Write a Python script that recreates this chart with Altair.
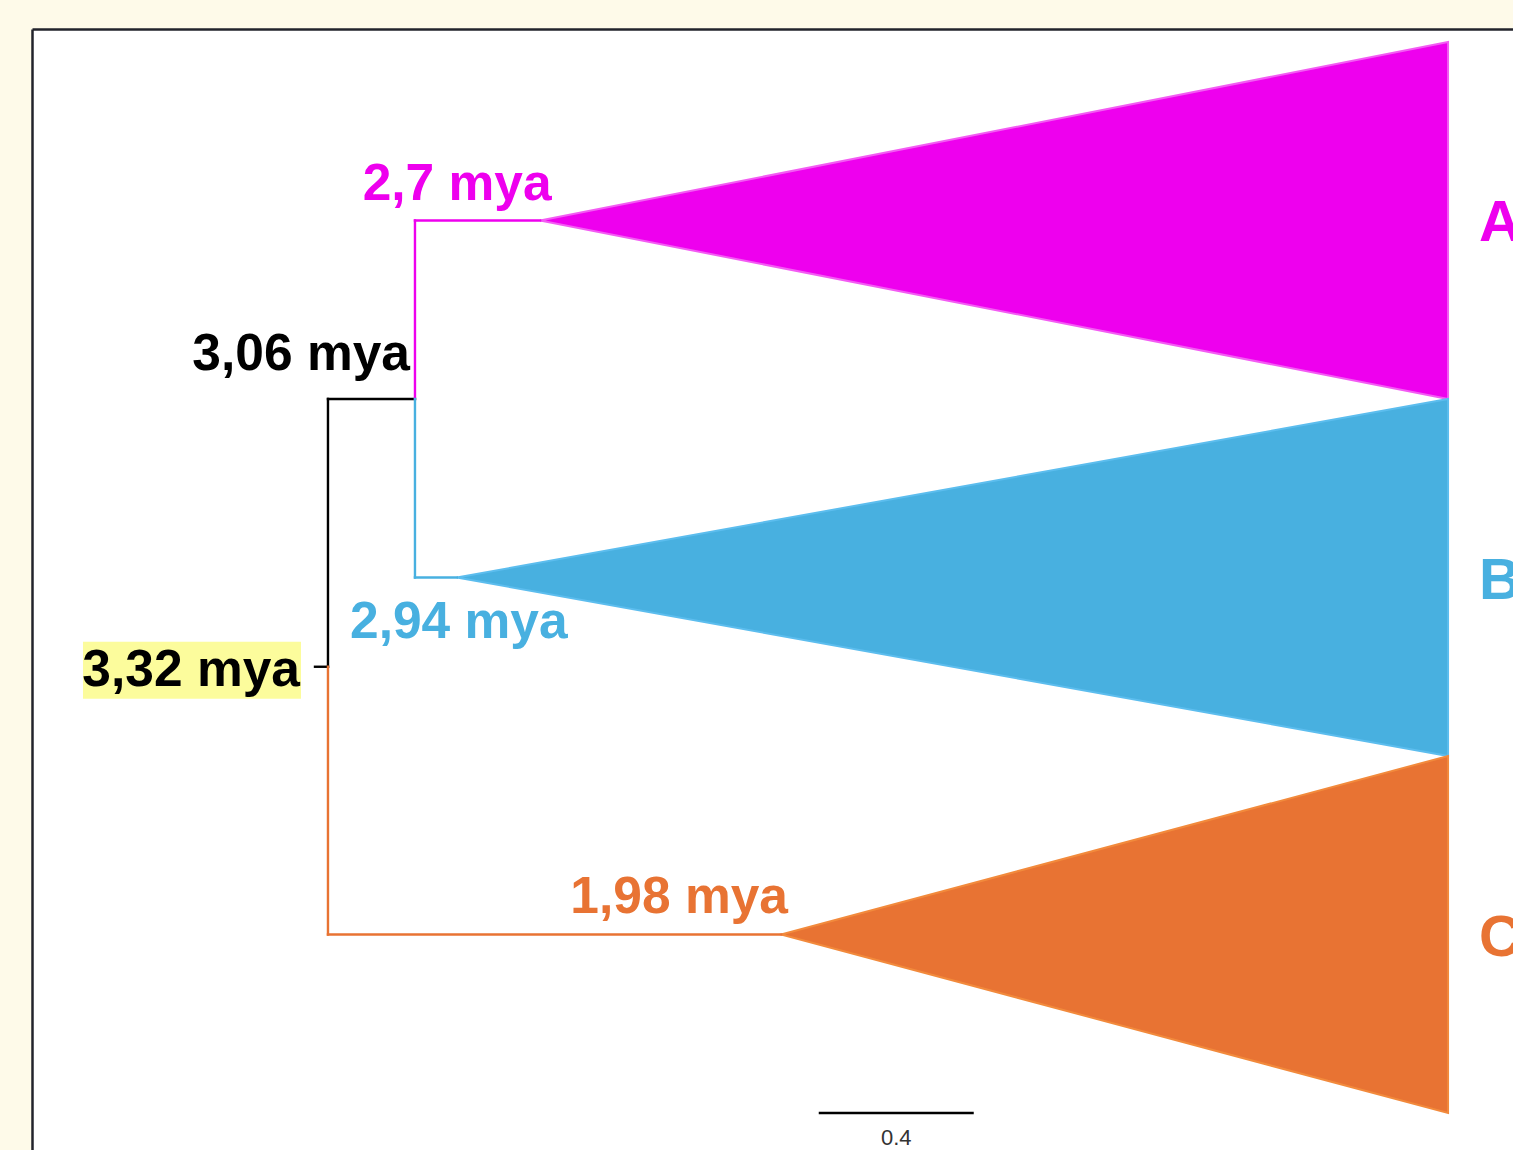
import altair as alt
import pandas as pd

# ---- tree data -------------------------------------------------------------
# internal/tip nodes: name, parent, depth (branch-length units), vertical slot
node_names = ["root", "N1", "A", "B", "C"]
node_parent = [None, "root", "N1", "N1", "root"]
node_depth = [0.0335, 0.258, 0.581, 0.366, 1.203]
node_slot = [1.75, 1.0, 0.5, 1.5, 2.5]
node_color = ["#000000", "#000000", "#EE00EE", "#48B0E0", "#E87333"]
node_age = ["3,32 mya", "3,06 mya", "2,7 mya", "2,94 mya", "1,98 mya"]

# collapsed clades: tips reach the same depth, each spans one slot band
clades = ["A", "B", "C"]
clade_top = [0.0, 1.0, 2.0]
clade_bottom = [1.0, 2.0, 3.0]
clade_fill = ["#EE00EE", "#48B0E0", "#E87333"]
clade_edge = ["#F35CF3", "#5CBDEE", "#F28A3C"]
tip_depth = 2.924

scale_bar_start = 1.30
scale_bar_len = 0.4

# ---- layout ----------------------------------------------------------------
W, H = 1481, 1121
x_dom = [-0.7303, 3.0916]
y_dom = [-0.0364, 3.1036]
FONT = "Liberation Sans"
FRAME = "#22232b"

def X(field, **kw):
    return alt.X(field, type="quantitative",
                 scale=alt.Scale(domain=x_dom, nice=False, zero=False),
                 axis=alt.Axis(orient="top", domain=True, domainColor=FRAME,
                               domainWidth=2.5, ticks=False, labels=False,
                               grid=False, title=None), **kw)

def Y(field, **kw):
    return alt.Y(field, type="quantitative",
                 scale=alt.Scale(domain=y_dom, nice=False, zero=False, reverse=True),
                 axis=alt.Axis(orient="left", domain=True, domainColor=FRAME,
                               domainWidth=2.5, ticks=False, labels=False,
                               grid=False, title=None), **kw)

pos = {n: (d, s) for n, d, s in zip(node_names, node_depth, node_slot)}

# ---- branches: vertical connector at the parent + horizontal to the child --
seg = [{"x": 0.0, "x2": pos["root"][0], "y": pos["root"][1], "y2": pos["root"][1],
        "node": "root"}]
for n, p in zip(node_names, node_parent):
    if p is None:
        continue
    px, py = pos[p]
    cx, cy = pos[n]
    seg.append({"x": px, "x2": px, "y": py, "y2": cy, "node": n})
    seg.append({"x": px, "x2": cx, "y": cy, "y2": cy, "node": n})
seg_df = pd.DataFrame(seg)

branches = alt.Chart(seg_df).mark_rule(strokeWidth=2.4, strokeCap="square").encode(
    x=X("x"), x2="x2", y=Y("y"), y2="y2",
    color=alt.Color("node:N", scale=alt.Scale(domain=node_names, range=node_color),
                    legend=None),
)

# ---- collapsed clade triangles ---------------------------------------------
tri = []
for c, t, b in zip(clades, clade_top, clade_bottom):
    ax, ay = pos[c]
    tri.append({"clade": c, "x": ax, "y": ay, "y2": ay})
    tri.append({"clade": c, "x": tip_depth, "y": t, "y2": b})
tri_df = pd.DataFrame(tri)

triangles = alt.Chart(tri_df).mark_area(strokeWidth=2, interpolate="linear").encode(
    x=X("x"), y=Y("y"), y2="y2", detail="clade:N",
    fill=alt.Fill("clade:N", scale=alt.Scale(domain=clades, range=clade_fill), legend=None),
    stroke=alt.Stroke("clade:N", scale=alt.Scale(domain=clades, range=clade_edge), legend=None),
)

# ---- highlight box behind the root age -------------------------------------
root_df = pd.DataFrame([{"x": 0.0, "y": pos["root"][1]}])
root_box = alt.Chart(root_df).mark_rect(
    color="#FCFC9C", xOffset=-232, x2Offset=-14, yOffset=-25, y2Offset=32
).encode(x=X("x"), x2="x", y=Y("y"), y2="y")

# ---- node age labels -------------------------------------------------------
label_style = {
    "root": dict(align="right", dx=-15, dy=19),
    "N1": dict(align="right", dx=-5, dy=-29),
    "A": dict(align="center", dx=-83, dy=-20),
    "B": dict(align="center", dx=2, dy=60),
    "C": dict(align="center", dx=-102, dy=-22),
}
age_layers = []
for n, age, col in zip(node_names, node_age, node_color):
    ax = 0.0 if n == "root" else pos[n][0]
    df = pd.DataFrame([{"x": ax, "y": pos[n][1], "t": age}])
    age_layers.append(
        alt.Chart(df).mark_text(font=FONT, fontSize=51.5, fontWeight="bold",
                                baseline="alphabetic", color=col,
                                **label_style[n]).encode(x=X("x"), y=Y("y"), text="t:N")
    )

# ---- clade names at the tips -----------------------------------------------
tip_df = pd.DataFrame({
    "x": [tip_depth] * len(clades),
    "y": [(t + b) / 2 for t, b in zip(clade_top, clade_bottom)],
    "clade": clades,
})
tip_labels = alt.Chart(tip_df).mark_text(
    font=FONT, fontSize=58, fontWeight="bold", align="left", baseline="alphabetic",
    dx=31, dy=21,
).encode(
    x=X("x"), y=Y("y"), text="clade:N",
    color=alt.Color("clade:N", scale=alt.Scale(domain=clades, range=clade_fill), legend=None),
)

# ---- tree scale ------------------------------------------------------------
bar_df = pd.DataFrame([{"x": scale_bar_start, "x2": scale_bar_start + scale_bar_len,
                        "y": clade_bottom[-1], "mid": scale_bar_start + scale_bar_len / 2,
                        "t": f"{scale_bar_len}"}])
bar = alt.Chart(bar_df).mark_rule(strokeWidth=2.6, color="#000000").encode(
    x=X("x"), x2="x2", y=Y("y"))
bar_text = alt.Chart(bar_df).mark_text(
    font=FONT, fontSize=22, color="#333333", baseline="alphabetic", dy=32
).encode(x=X("mid"), y=Y("y"), text="t:N")

chart = alt.layer(
    triangles, branches, root_box, *age_layers, tip_labels, bar, bar_text
).resolve_scale(color="independent").properties(
    width=W, height=H,
    autosize=alt.AutoSizeParams(type="none"),
    padding={"left": 32, "top": 29, "right": 0, "bottom": 0},
    background="#FEFAE9",
).configure_view(stroke=None, fill="#FFFFFF")

chart.save("out.html", embed_options={"renderer": "svg", "actions": False})
